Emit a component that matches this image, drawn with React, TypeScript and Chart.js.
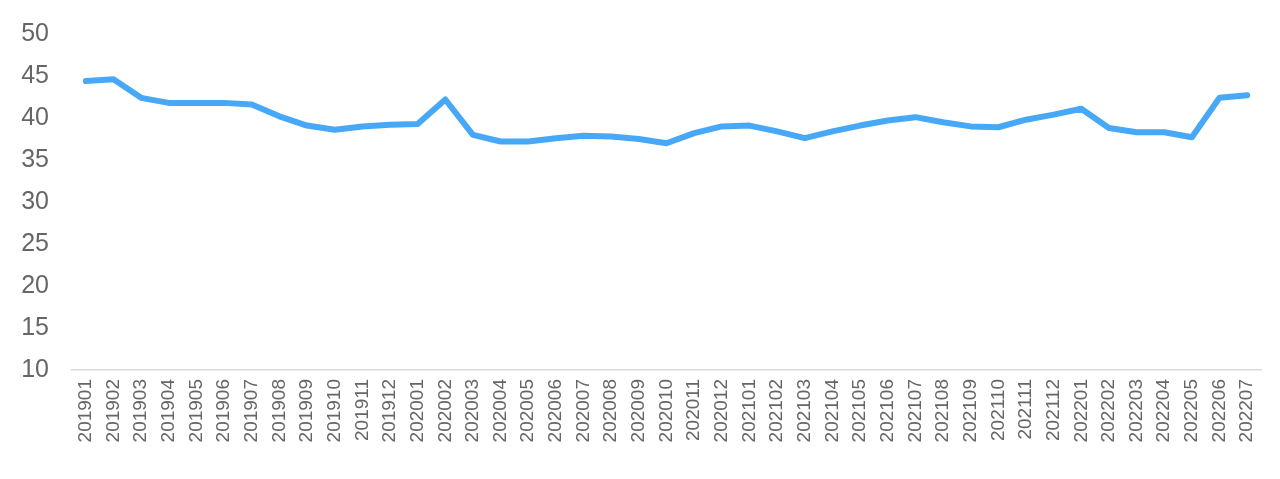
import React, { useEffect, useRef } from "react";
import { Chart, registerables } from "chart.js";

Chart.register(...registerables);

const categories = [
  "201901", "201902", "201903", "201904", "201905", "201906", "201907", "201908", "201909", "201910", "201911", "201912",
  "202001", "202002", "202003", "202004", "202005", "202006", "202007", "202008", "202009", "202010", "202011", "202012",
  "202101", "202102", "202103", "202104", "202105", "202106", "202107", "202108", "202109", "202110", "202111", "202112",
  "202201", "202202", "202203", "202204", "202205", "202206", "202207",
];

const seriesValues = [
  44.4, 44.6, 42.4, 41.8, 41.8, 41.8, 41.6, 40.2, 39.1, 38.6, 39.0, 39.2,
  39.3, 42.2, 38.0, 37.2, 37.2, 37.6, 37.9, 37.8, 37.5, 37.0, 38.2, 39.0,
  39.1, 38.4, 37.6, 38.4, 39.1, 39.7, 40.1, 39.5, 39.0, 38.9, 39.8, 40.4,
  41.1, 38.8, 38.3, 38.3, 37.7, 42.4, 42.7,
];

const yMin = 10;
const yMax = 50;
const yStep = 5;

export default function App() {
  const canvasRef = useRef<HTMLCanvasElement | null>(null);

  useEffect(() => {
    const canvas = canvasRef.current;
    if (!canvas) return;
    const chart = new Chart(canvas, {
      type: "line",
      data: {
        labels: categories,
        datasets: [
          {
            data: seriesValues,
            borderColor: "#48A8F8",
            backgroundColor: "#48A8F8",
            borderWidth: 6,
            pointRadius: 0,
            tension: 0,
            borderJoinStyle: "round",
            borderCapStyle: "round",
          },
        ],
      },
      options: {
        animation: false,
        responsive: true,
        maintainAspectRatio: false,
        layout: { padding: { top: 34, right: 19, bottom: 0, left: 0 } },
        plugins: { legend: { display: false }, tooltip: { enabled: false } },
        scales: {
          x: {
            offset: true,
            grid: { display: false, drawTicks: false },
            border: { display: true, color: "#d9d9d9", width: 1.5 },
            ticks: {
              autoSkip: false,
              minRotation: 90,
              maxRotation: 90,
              padding: 9,
              color: "#666666",
              font: { family: "Liberation Sans", size: 19 },
            },
            afterFit: (s: any) => {
              s.height = 109;
              s.paddingLeft = 0;
              s.paddingRight = 0;
            },
          },
          y: {
            min: yMin,
            max: yMax,
            grid: { display: false, drawTicks: false },
            border: { display: false },
            ticks: {
              stepSize: yStep,
              padding: 23,
              color: "#666666",
              font: { family: "Liberation Sans", size: 25 },
            },
            afterFit: (s: any) => {
              s.width = 72;
              s.paddingTop = 0;
              s.paddingBottom = 0;
            },
          },
        },
      },
    });
    return () => chart.destroy();
  }, []);

  return (
    <div style={{ position: "fixed", left: 0, top: 0, width: 1280, height: 479, background: "#fff" }}>
      <canvas ref={canvasRef} />
    </div>
  );
}
